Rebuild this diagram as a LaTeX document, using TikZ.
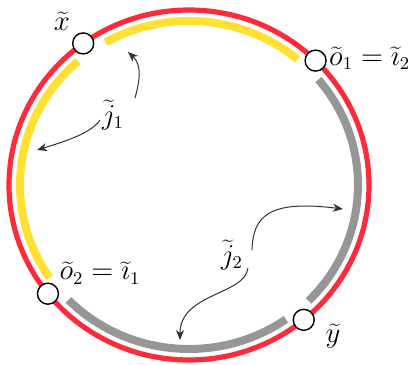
\documentclass[tikz,border=0pt]{standalone}
\usetikzlibrary{arrows.meta}
\definecolor{loopred}{HTML}{FF2A3C}
\definecolor{segyellow}{HTML}{FFE033}
\definecolor{seggray}{HTML}{969696}
\definecolor{arrgray}{HTML}{333333}
\begin{document}
\begin{tikzpicture}[x=0.5pt,y=0.5pt,
  pt/.style={circle,draw=black,fill=white,line width=0.7pt,minimum size=10.5pt,inner sep=0pt},
  lbl/.style={inner sep=1pt,font=\fontsize{13.5}{15}\selectfont},
  redloop/.style={draw=loopred,line width=2.6pt},
  yseg/.style={draw=segyellow,line width=4pt},
  gseg/.style={draw=seggray,line width=4pt},
  arr/.style={draw=arrgray,line width=0.5pt,-{Stealth[length=5pt,width=4pt,inset=1.5pt]}}]
\useasboundingbox (0,0) rectangle (420,365);
\coordinate (C) at (189,180);
% red loop
\draw[redloop] (C) ellipse [x radius=180, y radius=175];
% yellow segments
\draw[yseg] ([shift={(C)}]119.5:169 and 164) arc [start angle=119.5, end angle=50, x radius=169, y radius=164];
\draw[yseg] ([shift={(C)}]131:169 and 164) arc [start angle=131, end angle=214.5, x radius=169, y radius=164];
% gray segments
\draw[gseg] ([shift={(C)}]40:169 and 164) arc [start angle=40, end angle=-45, x radius=169, y radius=164];
\draw[gseg] ([shift={(C)}]-55:169 and 164) arc [start angle=-55, end angle=-135.5, x radius=169, y radius=164];
% points
\node[pt] (x) at ([shift={(C)}]126:180 and 175) {};
\node[pt] (o1) at ([shift={(C)}]45.3:180 and 175) {};
\node[pt] (y) at ([shift={(C)}]-50.4:180 and 175) {};
\node[pt] (o2) at ([shift={(C)}]218.4:180 and 175) {};
% labels
\node[lbl] (xl) at (62,344) {$\widetilde{x}$};
\node[lbl,anchor=west] (o1l) at ([yshift=1pt]o1.east) {$\widetilde{o}_1=\widetilde{\imath}_2$};
\node[lbl] (yl) at (333,29) {$\widetilde{y}$};
\node[lbl] (o2l) at (100,92) {$\widetilde{o}_2=\widetilde{\imath}_1$};
\node[lbl] (j1) at (113,250) {$\widetilde{j}_1$};
\node[lbl] (j2) at (232,110) {$\widetilde{j}_2$};
% arrow tips
\coordinate (t1) at (128,313);
\coordinate (t2) at (37,215);
\coordinate (t3) at (343,156);
\coordinate (t4) at (180,25);
\coordinate (s1) at (135,267);
\coordinate (s2) at (100,245);
\coordinate (s3) at (252,115);
\coordinate (s4) at (248,97);
\draw[arr] (s1) .. controls (140,285) and (142,300) .. (t1);
\draw[arr] (s2) .. controls (92,233) and (70,225) .. (t2);
\draw[arr] (s3) .. controls (253,150) and (270,165) .. (t3);
\draw[arr] (s4) .. controls (245,70) and (180,72) .. (t4);
\end{tikzpicture}
\end{document}
